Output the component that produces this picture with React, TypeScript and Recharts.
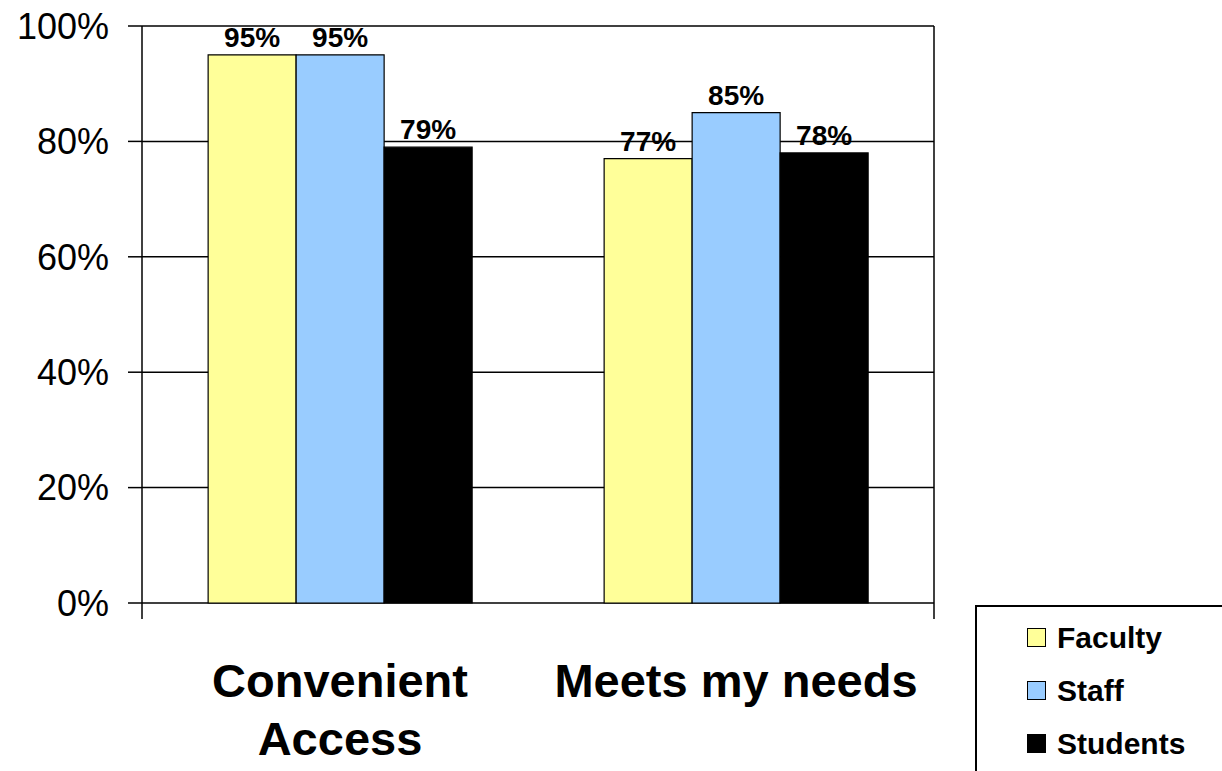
import { BarChart, Bar, XAxis, YAxis, CartesianGrid, LabelList, Legend } from 'recharts';

const FONT = 'Arial, "Liberation Sans", Helvetica, sans-serif';

const categories = ['Convenient Access', 'Meets my needs'];
const faculty = [95, 77];
const staff = [95, 85];
const students = [79, 78];
const percentTicks = [0, 20, 40, 60, 80, 100];
// category boundaries on the helper numeric axis (ticks sit between groups)
const boundaryTicks = [0, 1, 2];

const data = categories.map((name, i) => ({
  name,
  faculty: faculty[i],
  staff: staff[i],
  students: students[i],
}));

const CATEGORY_FONT = `bold 47px ${FONT}`;
let measureCtx: CanvasRenderingContext2D | null = null;

function textWidth(s: string, font: string) {
  if (!measureCtx) measureCtx = document.createElement('canvas').getContext('2d');
  if (!measureCtx) return s.length * 25;
  measureCtx.font = font;
  return measureCtx.measureText(s).width;
}

// greedy word wrap so long category names break onto a second line
function wrapLabel(s: string, maxWidth: number) {
  const lines: string[] = [];
  let line = '';
  for (const word of s.split(' ')) {
    const next = line ? `${line} ${word}` : word;
    if (line && textWidth(next, CATEGORY_FONT) > maxWidth) {
      lines.push(line);
      line = word;
    } else {
      line = next;
    }
  }
  if (line) lines.push(line);
  return lines;
}

function CategoryTick({ x, y, payload }: any) {
  const lines = wrapLabel(String(payload.value), 396);
  return (
    <text
      x={x}
      y={y + 93}
      textAnchor="middle"
      fill="#000"
      fontSize={47}
      fontWeight="bold"
      fontFamily={FONT}
    >
      {lines.map((line, i) => (
        <tspan key={i} x={x} dy={i === 0 ? 0 : 58}>
          {line}
        </tspan>
      ))}
    </text>
  );
}

// boundary axis only needs its tick marks, no text
const NoLabel = () => <g />;

function LegendBox({ payload }: any) {
  return (
    <div
      style={{
        width: 247,
        height: 166,
        boxSizing: 'border-box',
        borderTop: '2px solid #000',
        borderLeft: '2px solid #000',
        paddingTop: 4,
        paddingLeft: 50,
        fontFamily: FONT,
      }}
    >
      {(payload || []).map((item: any) => (
        <div key={item.value} style={{ display: 'flex', alignItems: 'center', height: 53 }}>
          <span
            style={{
              display: 'inline-block',
              width: 17,
              height: 17,
              background: item.color,
              border: '1px solid #000',
              marginRight: 11,
            }}
          />
          <span style={{ fontSize: 30, fontWeight: 'bold', color: '#000' }}>{item.value}</span>
        </div>
      ))}
    </div>
  );
}

const labelStyle = { fontSize: 28, fontWeight: 'bold', fontFamily: FONT };

export default function App() {
  return (
    <div style={{ position: 'absolute', left: 0, top: 0, width: 1222, height: 771, background: '#fff' }}>
      <BarChart
        width={1222}
        height={771}
        data={data}
        margin={{ top: 26, right: 287, bottom: 0, left: 0 }}
        barCategoryGap="16.7%"
        barGap={0}
      >
        <CartesianGrid vertical={false} stroke="#000" strokeWidth={1.5} />
        {/* id 0 keeps this axis next to the plot, above the category labels */}
        <XAxis
          xAxisId={0}
          type="number"
          domain={[0, 2]}
          ticks={boundaryTicks}
          interval={0}
          height={1}
          axisLine={false}
          tick={<NoLabel />}
          tickLine={{ stroke: '#000', strokeWidth: 1.5 }}
          tickSize={16}
          stroke="#000"
        />
        <XAxis
          xAxisId="cat"
          dataKey="name"
          height={167}
          axisLine={false}
          tickLine={false}
          tickSize={0}
          tickMargin={0}
          interval={0}
          tick={<CategoryTick />}
        />
        <YAxis
          width={142}
          domain={[0, 100]}
          ticks={percentTicks}
          interval={0}
          tickFormatter={(v: number) => `${v}%`}
          stroke="#000"
          strokeWidth={1.5}
          tickSize={14}
          tickMargin={19}
          tick={{ fill: '#000', fontSize: 36, fontFamily: FONT }}
        />
        <YAxis
          yAxisId="right"
          orientation="right"
          width={1}
          domain={[0, 100]}
          tick={false}
          tickLine={false}
          stroke="#000"
          strokeWidth={1.5}
        />
        <Legend
          layout="horizontal"
          verticalAlign="middle"
          align="center"
          width={247}
          height={166}
          wrapperStyle={{ left: 975, top: 605, width: 247, height: 166 }}
          content={<LegendBox />}
        />
        <Bar xAxisId="cat" dataKey="faculty" name="Faculty" fill="#FFFF99" stroke="#000" strokeWidth={1.2} isAnimationActive={false}>
          <LabelList dataKey="faculty" position="top" offset={8} fill="#000" formatter={(v: any) => `${v}%`} style={labelStyle} />
        </Bar>
        <Bar xAxisId="cat" dataKey="staff" name="Staff" fill="#99CCFF" stroke="#000" strokeWidth={1.2} isAnimationActive={false}>
          <LabelList dataKey="staff" position="top" offset={8} fill="#000" formatter={(v: any) => `${v}%`} style={labelStyle} />
        </Bar>
        <Bar xAxisId="cat" dataKey="students" name="Students" fill="#000000" stroke="#000" strokeWidth={1.2} isAnimationActive={false}>
          <LabelList dataKey="students" position="top" offset={8} fill="#000" formatter={(v: any) => `${v}%`} style={labelStyle} />
        </Bar>
      </BarChart>
    </div>
  );
}
